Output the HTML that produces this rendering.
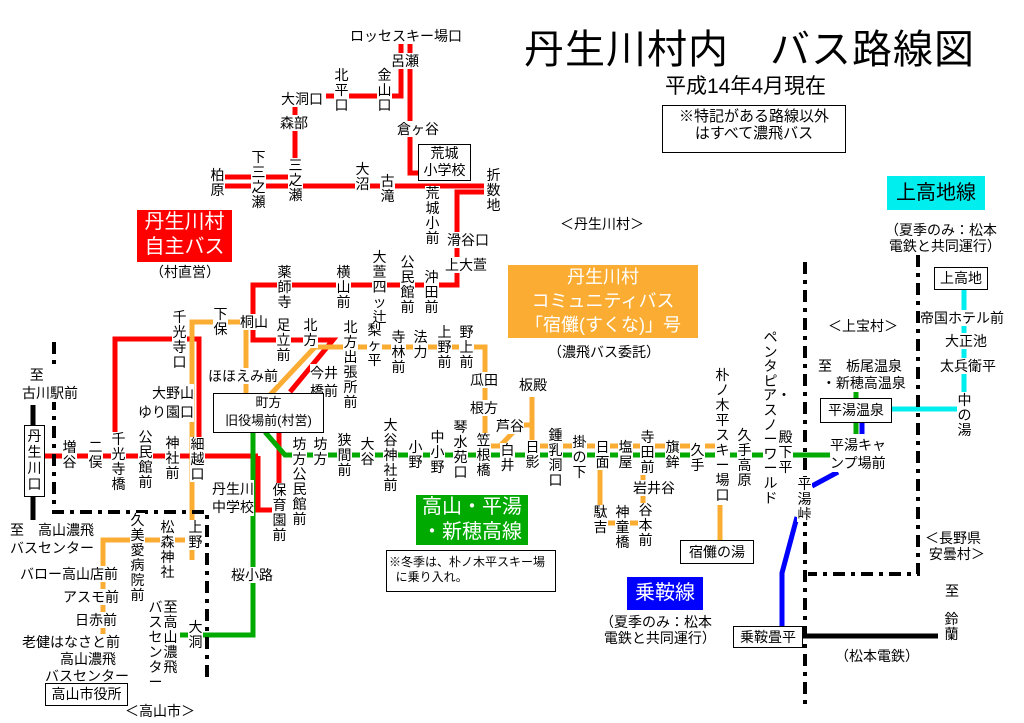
<!DOCTYPE html>
<html><head><meta charset="utf-8">
<style>
body{margin:0;background:#fff;}
#w{position:relative;width:1024px;height:723px;overflow:hidden;font-family:"Liberation Sans","Noto Sans CJK JP",sans-serif;color:#000;}
svg{position:absolute;left:0;top:0;}
.l{position:absolute;font-size:14px;line-height:16px;background:#fff;white-space:nowrap;}
.v{width:15px;white-space:normal;word-break:break-all;text-align:center;line-height:15px;}
.b{position:absolute;border:1px solid #000;background:#fff;font-size:14px;line-height:17px;text-align:center;}
.t{position:absolute;color:#fff;text-align:center;font-size:20px;line-height:25px;}
</style></head><body><div id="w">
<svg width="1024" height="723">
<g fill="none" stroke-width="5">
<g stroke="#f00">
<polyline points="401,42 401,96 388,96"/>
<line x1="326" y1="96" x2="378" y2="96"/>
<line x1="295" y1="100" x2="295" y2="186"/>
<polyline points="410,42 410,173 420,173"/>
<line x1="224" y1="177" x2="295" y2="177"/>
<line x1="224" y1="186" x2="484" y2="186"/>
<polyline points="484,192 457,192 457,285 253,285 253,340 333,340 290,392"/>
<line x1="45" y1="456" x2="258" y2="456"/>
<polyline points="258,456 258,510 272,510"/>
<line x1="279" y1="432" x2="279" y2="505"/>
<polyline points="115,456 115,339 199,339 199,456"/>
</g>
<g stroke="#fbad33">
<polyline points="192,560 192,322 246,322 246,400"/>
<polyline points="270,395 315,347 485,347 485,437"/>
<polyline points="490,446 500,446 520,425 532,425 532,397 532,440"/>
<line x1="537" y1="446" x2="720" y2="446"/>
<polyline points="600,460 600,523 643,523 643,465"/>
<line x1="720" y1="505" x2="720" y2="540"/>
<polyline points="185,540 103,540 103,682"/>
</g>
<g stroke="#0a0">
<polyline points="265,432 285,455 855,455"/>
<polyline points="253,432 253,635 180,635"/>
<line x1="856" y1="386" x2="856" y2="398"/>
<line x1="856" y1="422" x2="856" y2="434"/>
</g>
<g stroke="#00f">
<line x1="862" y1="422" x2="862" y2="434"/>
<line x1="812" y1="486" x2="838" y2="472"/>
<polyline points="797,517 782,573 782,626"/>
</g>
<g stroke="#0ee">
<line x1="891" y1="409" x2="957" y2="409"/>
<line x1="964" y1="288" x2="964" y2="392"/>
</g>
<g stroke="#000">
<line x1="33" y1="405" x2="33" y2="520"/>
<line x1="802" y1="636" x2="938" y2="636"/>
</g>
<g stroke="#000" stroke-width="4" stroke-dasharray="12 6 4 6">
<polyline points="54,342 54,512 207,512 207,683"/>
<line x1="805" y1="262" x2="805" y2="708"/>
<polyline points="918,255 918,574 808,574"/>
</g>
</g>
</svg>

<div style="position:absolute;left:524px;top:26px;font-size:40px;line-height:48px;letter-spacing:1px;">丹生川村内　バス路線図</div>
<div style="position:absolute;left:665px;top:75px;font-size:21px;line-height:24px;">平成14年4月現在</div>
<div class="b" style="left:662px;top:105px;width:182px;height:44px;font-size:15px;padding-top:2px;">※特記がある路線以外<br>はすべて濃飛バス</div>

<div class="t" style="left:137px;top:210px;width:95px;height:52px;background:#f00;">丹生川村<br>自主バス</div>
<div class="l" style="left:150px;top:264px;">（村直営）</div>
<div class="t" style="left:508px;top:265px;width:190px;height:73px;background:#fbad33;font-size:18px;line-height:24px;">丹生川村<br>コミュニティバス<br>「宿儺(すくな)」号</div>
<div class="l" style="left:548px;top:344px;">（濃飛バス委託）</div>
<div class="t" style="left:416px;top:495px;width:112px;height:50px;background:#0a0;">高山・平湯<br>・新穂高線</div>
<div class="t" style="left:627px;top:577px;width:76px;height:33px;background:#00f;line-height:33px;">乗鞍線</div>
<div class="l" style="left:600px;top:614px;">（夏季のみ：松本<br>&nbsp;電鉄と共同運行）</div>
<div class="t" style="left:887px;top:176px;width:98px;height:34px;background:#0ee;color:#000;line-height:34px;">上高地線</div>
<div class="l" style="left:885px;top:222px;">（夏季のみ：松本<br>&nbsp;電鉄と共同運行）</div>
<div class="l" style="left:560px;top:216px;">＜丹生川村＞</div>
<div class="l" style="left:828px;top:318px;">＜上宝村＞</div>
<div class="l" style="left:925px;top:530px;">＜長野県<br>&nbsp;安曇村＞</div>
<div class="l" style="left:125px;top:703px;">＜高山市＞</div>
<div class="b" style="left:386px;top:550px;width:170px;height:42px;font-size:12px;line-height:15px;text-align:left;padding:4px 0 0 2px;box-sizing:border-box;">※冬季は、朴ノ木平スキー場<br>&nbsp;&nbsp;に乗り入れ。</div>

<div class="l" style="left:350px;top:28px;">ロッセスキー場口</div>
<div class="l" style="left:391px;top:53px;">呂瀬</div>
<div class="l v" style="left:377px;top:68px;">金山口</div>
<div class="l v" style="left:334px;top:68px;">北平口</div>
<div class="l" style="left:281px;top:91px;">大洞口</div>
<div class="l" style="left:280px;top:115px;">森部</div>
<div class="l" style="left:397px;top:121px;">倉ヶ谷</div>
<div class="l v" style="left:251px;top:150px;">下三之瀬</div>
<div class="l v" style="left:288px;top:158px;">三之瀬</div>
<div class="l v" style="left:210px;top:168px;">柏原</div>
<div class="l v" style="left:355px;top:162px;">大沼</div>
<div class="l v" style="left:380px;top:174px;">古滝</div>
<div class="b" style="left:418px;top:144px;width:51px;height:35px;">荒城<br>小学校</div>
<div class="l v" style="left:425px;top:186px;">荒城小前</div>
<div class="l v" style="left:486px;top:168px;">折数地</div>
<div class="l" style="left:447px;top:232px;">滑谷口</div>
<div class="l" style="left:445px;top:257px;">上大萱</div>
<div class="l v" style="left:277px;top:265px;">薬師寺</div>
<div class="l v" style="left:336px;top:265px;">横山前</div>
<div class="l v" style="left:372px;top:250px;">大萱四ッ辻</div>
<div class="l v" style="left:400px;top:255px;">公民館前</div>
<div class="l v" style="left:424px;top:270px;">沖田前</div>
<div class="l v" style="left:213px;top:307px;">下保</div>
<div class="l v" style="left:172px;top:310px;">千光寺口</div>
<div class="l" style="left:240px;top:314px;">桐山</div>
<div class="l v" style="left:276px;top:318px;">足立前</div>
<div class="l v" style="left:303px;top:318px;">北方</div>
<div class="l v" style="left:343px;top:320px;">北方出張所前</div>
<div class="l v" style="left:367px;top:323px;">梨ヶ平</div>
<div class="l v" style="left:391px;top:330px;">寺林前</div>
<div class="l v" style="left:413px;top:330px;">法力</div>
<div class="l v" style="left:437px;top:325px;">上野前</div>
<div class="l v" style="left:459px;top:325px;">野上前</div>
<div class="l" style="left:310px;top:364px;line-height:18px;">今井<br>橋前</div>
<div class="l" style="left:208px;top:368px;">ほほえみ前</div>
<div class="l" style="left:138px;top:384px;text-align:right;line-height:19px;">大野山<br>ゆり園口</div>
<div class="l" style="left:470px;top:372px;">瓜田</div>
<div class="l" style="left:519px;top:377px;">板殿</div>
<div class="l" style="left:470px;top:400px;">根方</div>
<div class="l" style="left:496px;top:418px;">芦谷</div>
<div class="b" style="left:213px;top:393px;width:109px;height:38px;font-size:13px;line-height:18px;">町方<br>旧役場前(村営)</div>

<div class="l v" style="left:292px;top:437px;">坊方公民館前</div>
<div class="l v" style="left:313px;top:437px;">坊方</div>
<div class="l v" style="left:337px;top:433px;">狭間前</div>
<div class="l v" style="left:360px;top:437px;">大谷</div>
<div class="l v" style="left:383px;top:418px;">大谷神社前</div>
<div class="l v" style="left:408px;top:440px;">小野</div>
<div class="l v" style="left:430px;top:430px;">中小野</div>
<div class="l v" style="left:453px;top:420px;">琴水苑口</div>
<div class="l v" style="left:476px;top:433px;">笠根橋</div>
<div class="l v" style="left:500px;top:443px;">白井</div>
<div class="l v" style="left:525px;top:440px;">日影</div>
<div class="l v" style="left:548px;top:428px;">鍾乳洞口</div>
<div class="l v" style="left:572px;top:435px;">掛の下</div>
<div class="l v" style="left:595px;top:440px;">日面</div>
<div class="l v" style="left:618px;top:440px;">塩屋</div>
<div class="l v" style="left:640px;top:430px;">寺田前</div>
<div class="l v" style="left:665px;top:440px;">旗鉾</div>
<div class="l v" style="left:690px;top:443px;">久手</div>
<div class="l v" style="left:715px;top:368px;">朴ノ木平スキー場口</div>
<div class="l v" style="left:737px;top:428px;">久手高原</div>
<div class="l v" style="left:763px;top:330px;line-height:14.6px;">ペンタピア・スノーワールド</div>
<div class="l v" style="left:778px;top:430px;">殿下平</div>
<div class="l" style="left:830px;top:436px;line-height:18px;">平湯キャ<br>ンプ場前</div>
<div class="l v" style="left:797px;top:477px;">平湯峠</div>
<div class="l v" style="left:593px;top:505px;">駄吉</div>
<div class="l v" style="left:615px;top:505px;">神童橋</div>
<div class="l" style="left:633px;top:480px;">岩井谷</div>
<div class="l v" style="left:638px;top:503px;">谷本前</div>
<div class="b" style="left:680px;top:540px;width:72px;height:22px;line-height:22px;">宿儺の湯</div>

<div class="l" style="left:22px;top:366px;line-height:18px;">&nbsp;&nbsp;至<br>古川駅前</div>
<div class="b v" style="left:24px;top:425px;width:19px;height:68px;line-height:16px;padding-top:2px;">丹生川口</div>
<div class="l v" style="left:62px;top:440px;">増谷</div>
<div class="l v" style="left:88px;top:440px;">二俣</div>
<div class="l v" style="left:111px;top:432px;">千光寺橋</div>
<div class="l v" style="left:138px;top:430px;">公民館前</div>
<div class="l v" style="left:165px;top:436px;">神社前</div>
<div class="l v" style="left:190px;top:437px;">細越口</div>
<div class="l" style="left:212px;top:480px;line-height:18px;">丹生川<br>中学校</div>
<div class="l v" style="left:272px;top:483px;">保育園前</div>
<div class="l" style="left:231px;top:567px;">桜小路</div>
<div class="l v" style="left:188px;top:620px;">大洞</div>
<div class="l v" style="left:163px;top:600px;">至高山濃飛</div>
<div class="l v" style="left:148px;top:600px;">バスセンター</div>
<div class="l v" style="left:188px;top:520px;">上野</div>
<div class="l v" style="left:160px;top:520px;">松森神社</div>
<div class="l v" style="left:130px;top:513px;">久美愛病院前</div>
<div class="l" style="left:10px;top:521px;line-height:18px;">至　高山濃飛<br>バスセンター</div>
<div class="l" style="left:20px;top:566px;">バロー高山店前</div>
<div class="l" style="left:63px;top:589px;">アスモ前</div>
<div class="l" style="left:75px;top:612px;">日赤前</div>
<div class="l" style="left:22px;top:634px;">老健はなさと前</div>
<div class="l" style="left:60px;top:650px;line-height:18px;">高山濃飛</div>
<div class="l" style="left:45px;top:668px;">バスセンター</div>
<div class="b" style="left:45px;top:683px;width:81px;height:21px;line-height:21px;">高山市役所</div>

<div class="l" style="left:818px;top:358px;line-height:17px;">至　栃尾温泉<br>&nbsp;・新穂高温泉</div>
<div class="b" style="left:820px;top:398px;width:70px;height:23px;line-height:23px;">平湯温泉</div>
<div class="b" style="left:934px;top:267px;width:52px;height:21px;line-height:21px;">上高地</div>
<div class="l" style="left:920px;top:310px;">帝国ホテル前</div>
<div class="l" style="left:945px;top:333px;">大正池</div>
<div class="l" style="left:940px;top:358px;">太兵衛平</div>
<div class="l v" style="left:957px;top:393px;">中の湯</div>
<div class="l" style="left:945px;top:583px;">至</div>
<div class="l v" style="left:944px;top:612px;">鈴蘭</div>
<div class="b" style="left:733px;top:626px;width:68px;height:20px;line-height:20px;">乗鞍畳平</div>
<div class="l" style="left:835px;top:648px;">（松本電鉄）</div>
</div></body></html>
